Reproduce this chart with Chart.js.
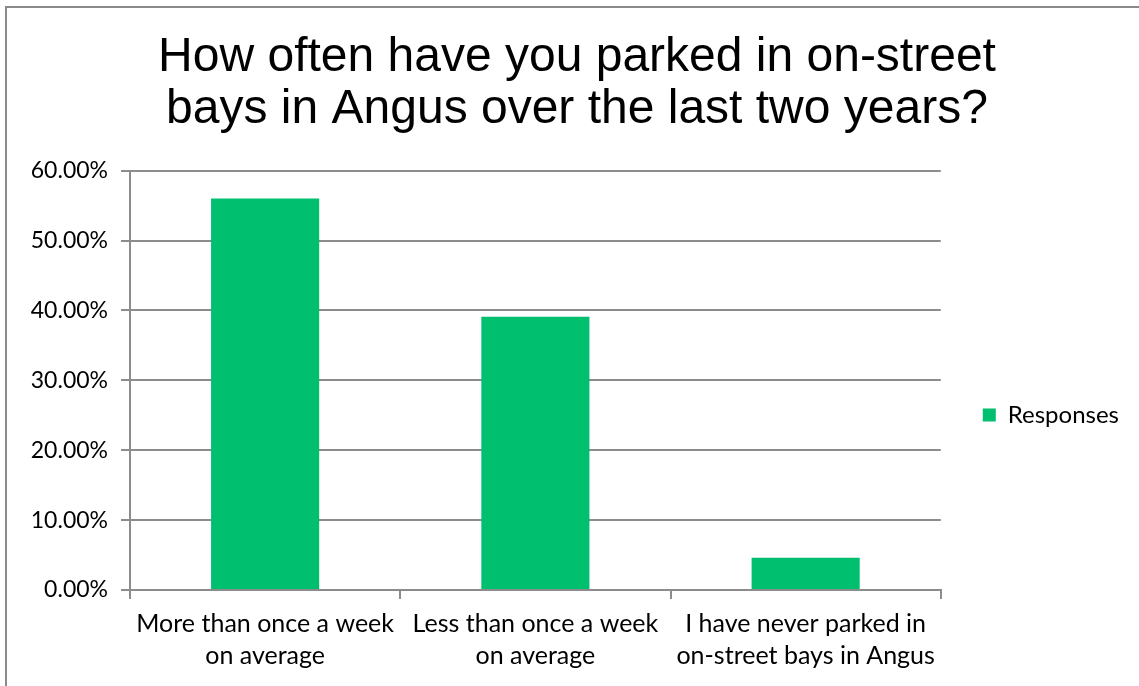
<!DOCTYPE html>
<html lang="en">
<head>
  <meta charset="UTF-8" />
  <title>On-street parking in Angus</title>
  <script src="https://cdn.jsdelivr.net/npm/chart.js"></script>
  <style>
    html, body { margin: 0; padding: 0; background: #fff; overflow: hidden; }
    #frame {
      position: absolute; left: 5px; top: 6px; width: 1200px; height: 800px;
      border: 2px solid #8a8a8a; box-sizing: border-box;
    }
    #wrap { position: absolute; left: 0; top: 0; width: 1139px; height: 686px; }
  </style>
</head>
<body>
  <div id="frame"></div>
  <div id="wrap"><canvas id="chart"></canvas></div>

  <script>
    const categories = [
      ["More than once a week", "on average"],
      ["Less than once a week", "on average"],
      ["I have never parked in", "on-street bays in Angus"]
    ];
    const responses = [56.0, 39.1, 4.6];
    const seriesName = "Responses";
    const titleLines = ["How often have you parked in on-street", "bays in Angus over the last two years?"];

    const green = "#00bf6f";
    const gridGray = "#8c8c8c";
    const labelFont = "Lato, 'Open Sans', sans-serif";

    new Chart(document.getElementById("chart"), {
      type: 'bar',
      data: {
        labels: categories,
        datasets: [{
          label: seriesName,
          data: responses,
          backgroundColor: green,
          borderWidth: 0,
          categoryPercentage: 0.4,
          barPercentage: 1.0
        }]
      },
      options: {
        responsive: true,
        maintainAspectRatio: false,
        animation: false,
        // left padding only nudges the title to the right; the y axis width makes up for it
        layout: { padding: { left: 25, right: 10, top: 0, bottom: 0 } },
        plugins: {
          title: {
            display: true,
            text: titleLines,
            color: '#000',
            font: { family: "'Liberation Sans', Arial, sans-serif", size: 48, weight: 'normal', lineHeight: 1.1 },
            padding: { top: 31, bottom: 34 }
          },
          legend: {
            position: 'right',
            title: {
              display: true,
              text: ' ',
              font: { size: 12, lineHeight: 1 },
              padding: { top: 132, bottom: 0 }
            },
            labels: {
              color: '#000',
              font: { family: labelFont, size: 24 },
              boxWidth: 13,
              boxHeight: 13,
              padding: 42
            }
          },
          tooltip: { enabled: false }
        },
        scales: {
          x: {
            grid: {
              display: true,
              offset: true,
              drawOnChartArea: false,
              drawTicks: true,
              tickLength: 9,
              color: gridGray,
              lineWidth: 2
            },
            border: { display: true, color: gridGray, width: 2 },
            ticks: {
              color: '#000',
              font: { family: labelFont, size: 25, lineHeight: 1.28 },
              maxRotation: 0,
              autoSkip: false,
              padding: 9
            },
            afterFit: (scale) => { scale.height = 96; }
          },
          y: {
            min: 0,
            max: 60,
            ticks: {
              stepSize: 10,
              color: '#000',
              font: { family: labelFont, size: 23 },
              padding: 13,
              callback: (v) => v.toFixed(2) + '%'
            },
            grid: {
              color: gridGray,
              lineWidth: 2,
              tickLength: 9
            },
            border: { display: true, color: gridGray, width: 2 },
            afterFit: (scale) => { scale.width = 105; }
          }
        }
      }
    });
  </script>
</body>
</html>
